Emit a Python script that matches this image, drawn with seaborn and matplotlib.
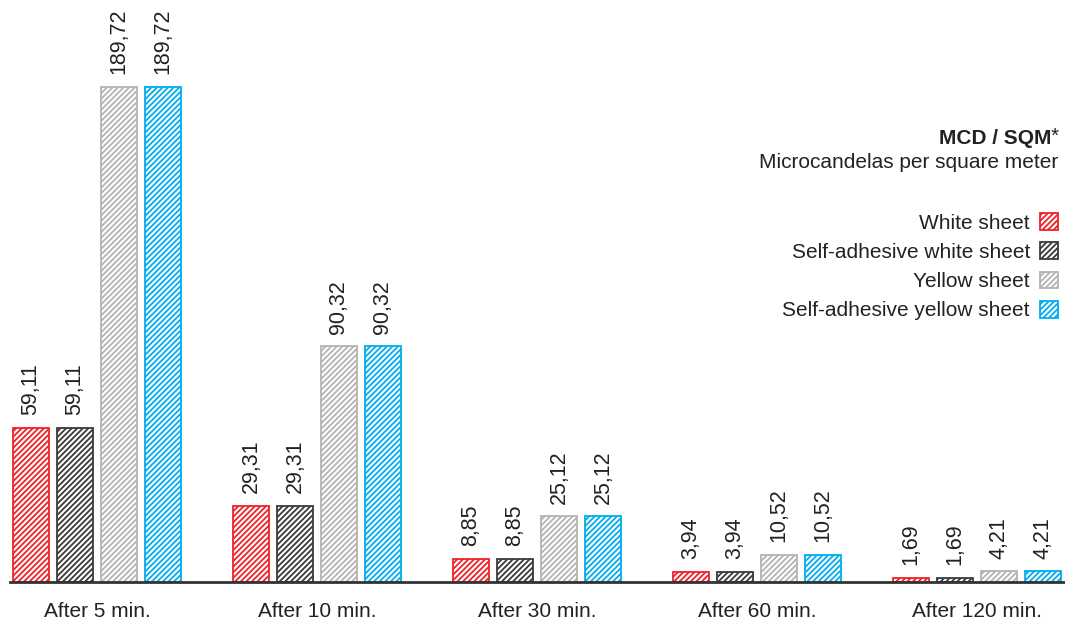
import pandas as pd
import matplotlib.pyplot as plt
import seaborn as sns
from matplotlib.patches import Patch

# values (MCD / SQM)
times = ["After 5 min.", "After 10 min.", "After 30 min.", "After 60 min.", "After 120 min."]
sheets = ["White sheet", "Self-adhesive white sheet", "Yellow sheet", "Self-adhesive yellow sheet"]
white = [59.11, 29.31, 8.85, 3.94, 1.69]
white_adh = [59.11, 29.31, 8.85, 3.94, 1.69]
yellow = [189.72, 90.32, 25.12, 10.52, 4.21]
yellow_adh = [189.72, 90.32, 25.12, 10.52, 4.21]
colors = ["#ee2229", "#3a3a3a", "#b3b3b3", "#00adef"]

df = pd.DataFrame({
    "time": times * 4,
    "sheet": [s for s in sheets for _ in times],
    "value": white + white_adh + yellow + yellow_adh,
})

sns.set_style("white")
plt.rcParams["font.family"] = ["Liberation Sans", "DejaVu Sans"]
plt.rcParams["hatch.linewidth"] = 1.3
HATCH = "//////"

fig = plt.figure(figsize=(10.65, 6.24), dpi=100)
ax = fig.add_axes([10 / 1065, 42 / 624, 1 - 10 / 1065, 582 / 624])

sns.barplot(data=df, x="time", y="value", hue="sheet", palette=colors,
            width=0.8, gap=0.18, ax=ax, legend=False, errorbar=None)

# white fill + hatched stripes in the series colour
for cont, col in zip(ax.containers, colors):
    for p in cont:
        p.set_facecolor("white")
        p.set_edgecolor(col)
        p.set_hatch(HATCH)
        p.set_linewidth(1.3)
    ax.bar_label(cont, labels=[f"{b.get_height():.2f}".replace(".", ",") for b in cont],
                 rotation=90, padding=9, fontsize=15.5, color="#222222")

ax.set_xlim(-0.395, 4.4)
ax.set_ylim(0, 223)
ax.set_xlabel("")
ax.set_ylabel("")
ax.set_yticks([])
ax.tick_params(axis="x", length=0, labelsize=15, pad=14.5, labelcolor="#222222")
sns.despine(ax=ax, left=True)
ax.spines["bottom"].set_color("#333333")
ax.spines["bottom"].set_linewidth(2)

handles = [Patch(facecolor="white", edgecolor=c, hatch=HATCH, linewidth=1.3) for c in colors]
leg = fig.legend(handles, sheets, loc="upper right",
                 bbox_to_anchor=(1058 / 1065, 1 - 213 / 624),
                 bbox_transform=fig.transFigure,
                 frameon=False, markerfirst=False, fontsize=15, handlelength=0.85,
                 handleheight=0.85, handletextpad=0.5, labelspacing=0.47,
                 borderaxespad=0, borderpad=0)
for t in leg.get_texts():
    t.set_color("#222222")

# title: bold unit with a regular asterisk
fig.text(1059 / 1065, 1 - 136 / 624, "*", ha="right", va="center",
         fontsize=15, color="#222222")
fig.text(1051 / 1065, 1 - 139 / 624, "MCD / SQM", ha="right", va="center",
         fontsize=15, fontweight="bold", color="#222222")
fig.text(1058 / 1065, 1 - 163 / 624, "Microcandelas per square meter", ha="right",
         va="center", fontsize=15, color="#222222")

fig.savefig("out.png", dpi=100)
